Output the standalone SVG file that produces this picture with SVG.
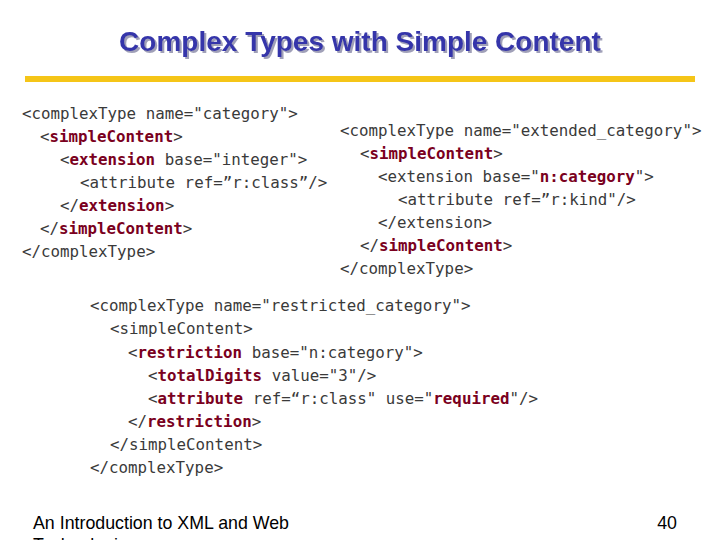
<svg xmlns="http://www.w3.org/2000/svg" width="720" height="540" viewBox="0 0 720 540">
<defs>
<filter id="sh" x="-5%" y="-20%" width="110%" height="150%"><feDropShadow dx="2" dy="2" stdDeviation="0.6" flood-color="#a0a0b8"/></filter>
</defs>
<style>
.t{font-family:"Liberation Sans",Arial,sans-serif;font-weight:bold;font-size:28px}
.c{font-family:"DejaVu Sans Mono",monospace;font-size:15.8px;fill:#3a3a3a}
.b{font-weight:bold;fill:#7a0020}
.f{font-family:"Liberation Sans",Arial,sans-serif;font-size:17.8px;fill:#000}
</style>
<rect width="720" height="540" fill="#fff"/>
<g id="title">
<text class="t" x="360" y="51" text-anchor="middle" fill="#3535aa" filter="url(#sh)">Complex Types with Simple Content</text>
<rect x="25" y="76" width="670" height="6" fill="#f5c518"/>
</g>
<g id="left" class="c">
<text x="22" y="119">&lt;complexType name="category"&gt;</text>
<text x="40" y="142">&lt;<tspan class="b">simpleContent</tspan>&gt;</text>
<text x="60" y="165">&lt;<tspan class="b">extension</tspan> base="integer"&gt;</text>
<text x="80" y="188">&lt;attribute ref=”r:class”/&gt;</text>
<text x="60" y="211">&lt;/<tspan class="b">extension</tspan>&gt;</text>
<text x="40" y="234">&lt;/<tspan class="b">simpleContent</tspan>&gt;</text>
<text x="22" y="257">&lt;/complexType&gt;</text>
</g>
<g id="right" class="c">
<text x="340" y="136">&lt;complexType name="extended_category"&gt;</text>
<text x="360" y="159">&lt;<tspan class="b">simpleContent</tspan>&gt;</text>
<text x="378" y="182">&lt;extension base="<tspan class="b">n:category</tspan>"&gt;</text>
<text x="398" y="205">&lt;attribute ref=”r:kind"/&gt;</text>
<text x="378" y="228">&lt;/extension&gt;</text>
<text x="360" y="251">&lt;/<tspan class="b">simpleContent</tspan>&gt;</text>
<text x="340" y="274">&lt;/complexType&gt;</text>
</g>
<g id="bottom" class="c">
<text x="90" y="311">&lt;complexType name="restricted_category"&gt;</text>
<text x="110" y="334">&lt;simpleContent&gt;</text>
<text x="128" y="358">&lt;<tspan class="b">restriction</tspan> base="n:category"&gt;</text>
<text x="148" y="381">&lt;<tspan class="b">totalDigits</tspan> value="3"/&gt;</text>
<text x="148" y="404">&lt;<tspan class="b">attribute</tspan> ref=“r:class" use="<tspan class="b">required</tspan>"/&gt;</text>
<text x="128" y="427">&lt;/<tspan class="b">restriction</tspan>&gt;</text>
<text x="110" y="450">&lt;/simpleContent&gt;</text>
<text x="90" y="473">&lt;/complexType&gt;</text>
</g>
<g id="footer">
<text class="f" x="33" y="529">An Introduction to XML and Web</text>
<text class="f" x="33" y="551">Technologies</text>
<text class="f" x="677" y="529" text-anchor="end">40</text>
</g>
</svg>
